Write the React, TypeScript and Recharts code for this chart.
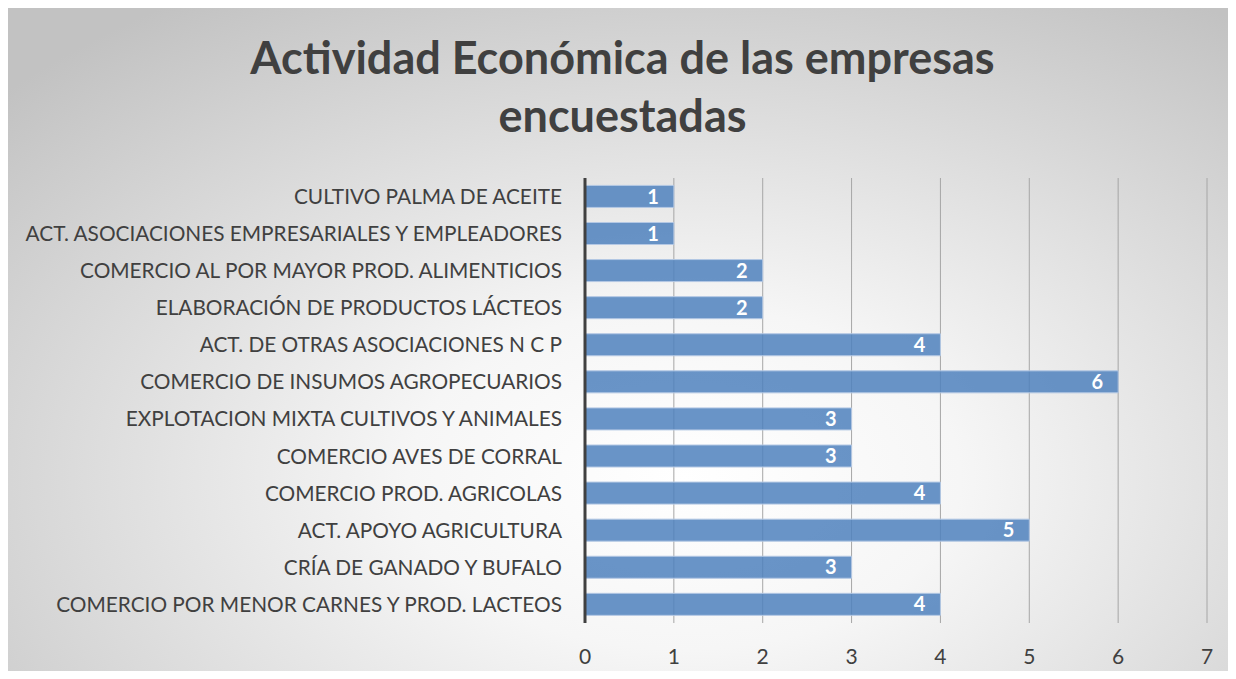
import React from "react";
import { BarChart, Bar, XAxis, YAxis, CartesianGrid, LabelList } from "recharts";

const categories = [
  "CULTIVO PALMA DE ACEITE",
  "ACT. ASOCIACIONES EMPRESARIALES  Y EMPLEADORES",
  "COMERCIO AL POR MAYOR PROD. ALIMENTICIOS",
  "ELABORACIÓN DE PRODUCTOS LÁCTEOS",
  "ACT. DE OTRAS ASOCIACIONES N C P",
  "COMERCIO DE INSUMOS AGROPECUARIOS",
  "EXPLOTACION MIXTA CULTIVOS Y ANIMALES",
  "COMERCIO AVES DE CORRAL",
  "COMERCIO PROD. AGRICOLAS",
  "ACT. APOYO AGRICULTURA",
  "CRÍA DE GANADO Y BUFALO",
  "COMERCIO POR MENOR CARNES Y PROD. LACTEOS",
];
const values = [1, 1, 2, 2, 4, 6, 3, 3, 4, 5, 3, 4];
const xTicks = [0, 1, 2, 3, 4, 5, 6, 7];
const titleLines = ["Actividad Económica de las empresas", "encuestadas"];
const caption = "Figura 6: Actividad económica de la muestra";

const data = categories.map((c, i) => ({ name: c, value: values[i] }));

const FONT = "Lato, 'Open Sans', sans-serif";

export default function App() {
  return (
    <div style={{ position: "relative", margin: -8, width: 1236, height: 679, overflow: "hidden", background: "#fff" }}>
      <div style={{ position: "absolute", left: 0, top: -11, fontFamily: "'Liberation Serif', serif", fontStyle: "italic", fontSize: 19, lineHeight: "19px", color: "#000", whiteSpace: "nowrap" }}>
        {caption}
      </div>
      <div
        style={{
          position: "absolute",
          left: 7,
          top: 7,
          width: 1229,
          height: 672,
          borderTop: "1px solid #c8c8c8",
          borderLeft: "1px solid #c8c8c8",
          background: "radial-gradient(ellipse 75% 85% at 55% 70%, #ffffff 0%, #f6f6f6 30%, #dcdcdc 65%, #c2c2c2 100%)",
        }}
      >
        <div style={{ position: "absolute", left: 0, width: 1229, top: 20, textAlign: "center", fontFamily: FONT, fontWeight: 700, fontSize: 45, lineHeight: "58px", color: "#404040" }}>
          {titleLines.map((t) => (
            <div key={t}>{t}</div>
          ))}
        </div>
        <div style={{ position: "absolute", left: 0, top: 0 }}>
          <BarChart
            width={1229}
            height={672}
            data={data}
            layout="vertical"
            margin={{ top: 170, right: 30, bottom: 17, left: 0 }}
            barCategoryGap="20%"
          >
            <CartesianGrid horizontal={false} vertical stroke="#a6a6a6" strokeWidth={1} />
            <XAxis
              type="number"
              domain={[0, 7]}
              ticks={xTicks}
              axisLine={false}
              tickLine={false}
              height={40}
              tickMargin={20}
              tick={{ fill: "#404040", fontSize: 21, fontFamily: FONT }}
            />
            <YAxis
              type="category"
              dataKey="name"
              width={577}
              axisLine={{ stroke: "#404040", strokeWidth: 3 }}
              tickLine={false}
              tickMargin={17}
              interval={0}
              tick={{ fill: "#404040", fontSize: 20.8, fontFamily: FONT }}
            />
            <Bar dataKey="value" fill="#4f81bd" fillOpacity={0.85} stroke="#b4c8e4" strokeWidth={1} isAnimationActive={false}>
              <LabelList dataKey="value" position="insideRight" offset={15} fill="#ffffff" fontWeight={700} fontSize={20} fontFamily={FONT} />
            </Bar>
          </BarChart>
        </div>
      </div>
    </div>
  );
}
